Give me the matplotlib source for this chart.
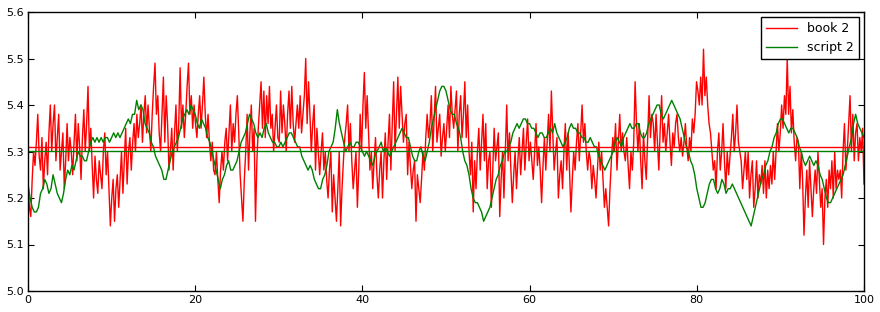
import numpy as np
import matplotlib
matplotlib.use("Agg")
import matplotlib.pyplot as plt

# valores, 6 por unidad de x (book 2 = rojo)
book2 = [
    5.23, 5.18, 5.16, 5.24, 5.30, 5.27,  # 0
    5.32, 5.38, 5.29, 5.26, 5.33, 5.22,
    5.28, 5.32, 5.25, 5.34, 5.40, 5.30,
    5.36, 5.40, 5.28, 5.33, 5.38, 5.26,
    5.30, 5.34, 5.22, 5.28, 5.36, 5.28,
    5.33, 5.30, 5.25, 5.32, 5.38, 5.28,  # 5
    5.36, 5.31, 5.24, 5.33, 5.39, 5.30,
    5.36, 5.44, 5.30, 5.35, 5.27, 5.20,
    5.29, 5.24, 5.21, 5.28, 5.25, 5.22,
    5.30, 5.34, 5.25, 5.30, 5.22, 5.14,
    5.20, 5.24, 5.15, 5.22, 5.25, 5.18,  # 10
    5.24, 5.30, 5.21, 5.28, 5.35, 5.23,
    5.30, 5.33, 5.26, 5.32, 5.36, 5.30,
    5.38, 5.33, 5.36, 5.40, 5.32, 5.38,
    5.42, 5.34, 5.40, 5.35, 5.30, 5.38,
    5.44, 5.49, 5.38, 5.42, 5.34, 5.30,  # 15
    5.38, 5.46, 5.32, 5.42, 5.36, 5.26,
    5.30, 5.35, 5.26, 5.34, 5.40, 5.30,
    5.36, 5.48, 5.35, 5.40, 5.33, 5.38,
    5.44, 5.49, 5.38, 5.42, 5.35, 5.40,
    5.36, 5.33, 5.38, 5.42, 5.35, 5.40,  # 20
    5.46, 5.38, 5.33, 5.38, 5.32, 5.28,
    5.32, 5.26, 5.25, 5.30, 5.24, 5.19,
    5.26, 5.30, 5.26, 5.32, 5.35, 5.28,
    5.34, 5.40, 5.30, 5.36, 5.32, 5.38,
    5.42, 5.34, 5.25, 5.20, 5.15, 5.24,  # 25
    5.30, 5.38, 5.26, 5.34, 5.40, 5.30,
    5.35, 5.15, 5.28, 5.35, 5.40, 5.45,
    5.35, 5.43, 5.33, 5.42, 5.36, 5.44,
    5.35, 5.38, 5.30, 5.35, 5.40, 5.33,
    5.32, 5.43, 5.34, 5.40, 5.36, 5.30,  # 30
    5.38, 5.43, 5.35, 5.44, 5.36, 5.32,
    5.36, 5.40, 5.35, 5.42, 5.34, 5.38,
    5.42, 5.50, 5.36, 5.45, 5.38, 5.30,
    5.36, 5.40, 5.26, 5.35, 5.30, 5.25,
    5.30, 5.34, 5.26, 5.30, 5.24, 5.20,  # 35
    5.26, 5.30, 5.17, 5.25, 5.20, 5.15,
    5.22, 5.30, 5.14, 5.22, 5.28, 5.33,
    5.36, 5.40, 5.30, 5.36, 5.28, 5.22,
    5.26, 5.30, 5.18, 5.26, 5.38, 5.30,
    5.40, 5.47, 5.35, 5.42, 5.34, 5.26,  # 40
    5.30, 5.22, 5.28, 5.33, 5.25, 5.20,
    5.26, 5.30, 5.20, 5.28, 5.34, 5.24,
    5.32, 5.38, 5.26, 5.36, 5.45, 5.30,
    5.38, 5.46, 5.35, 5.44, 5.38, 5.32,
    5.36, 5.38, 5.25, 5.32, 5.27, 5.22,  # 45
    5.26, 5.28, 5.15, 5.25, 5.22, 5.19,
    5.24, 5.30, 5.26, 5.33, 5.38, 5.33,
    5.36, 5.42, 5.30, 5.37, 5.44, 5.32,
    5.35, 5.38, 5.29, 5.33, 5.36, 5.30,
    5.35, 5.40, 5.33, 5.44, 5.38, 5.35,  # 50
    5.39, 5.43, 5.30, 5.38, 5.42, 5.33,
    5.38, 5.45, 5.33, 5.40, 5.30, 5.25,
    5.32, 5.17, 5.28, 5.22, 5.30, 5.35,
    5.26, 5.32, 5.38, 5.28, 5.36, 5.22,
    5.28, 5.30, 5.18, 5.26, 5.35, 5.28,  # 55
    5.31, 5.34, 5.16, 5.24, 5.30, 5.20,
    5.30, 5.40, 5.28, 5.34, 5.26, 5.19,
    5.25, 5.30, 5.22, 5.28, 5.33, 5.25,
    5.30, 5.35, 5.26, 5.32, 5.37, 5.28,
    5.32, 5.28, 5.24, 5.30, 5.36, 5.27,  # 60
    5.31, 5.26, 5.19, 5.27, 5.33, 5.26,
    5.32, 5.38, 5.30, 5.43, 5.34, 5.26,
    5.30, 5.33, 5.20, 5.25, 5.28, 5.22,
    5.30, 5.36, 5.26, 5.34, 5.26, 5.17,
    5.24, 5.30, 5.26, 5.32, 5.36, 5.28,  # 65
    5.34, 5.40, 5.32, 5.36, 5.30, 5.26,
    5.30, 5.28, 5.22, 5.27, 5.24, 5.20,
    5.26, 5.32, 5.26, 5.30, 5.24, 5.18,
    5.22, 5.18, 5.14, 5.22, 5.28, 5.33,
    5.30, 5.36, 5.26, 5.32, 5.38, 5.30,  # 70
    5.34, 5.30, 5.28, 5.33, 5.27, 5.22,
    5.30, 5.26, 5.32, 5.45, 5.36, 5.30,
    5.36, 5.28, 5.22, 5.34, 5.28, 5.24,
    5.33, 5.42, 5.33, 5.38, 5.36, 5.30,
    5.38, 5.32, 5.26, 5.35, 5.42, 5.32,  # 75
    5.36, 5.30, 5.34, 5.38, 5.32, 5.27,
    5.34, 5.31, 5.36, 5.38, 5.33, 5.30,
    5.33, 5.29, 5.32, 5.36, 5.31, 5.28,
    5.33, 5.30, 5.37, 5.34, 5.38, 5.45,
    5.43, 5.40, 5.46, 5.40, 5.52, 5.42,  # 80
    5.46, 5.40, 5.36, 5.34, 5.30, 5.26,
    5.28, 5.22, 5.30, 5.34, 5.26, 5.30,
    5.36, 5.28, 5.22, 5.30, 5.25, 5.29,
    5.33, 5.38, 5.30, 5.34, 5.40, 5.32,
    5.30, 5.28, 5.22, 5.26, 5.30, 5.24,  # 85
    5.30, 5.20, 5.25, 5.28, 5.18, 5.22,
    5.28, 5.20, 5.25, 5.23, 5.27, 5.21,
    5.28, 5.20, 5.26, 5.22, 5.27, 5.23,
    5.30, 5.24, 5.30, 5.36, 5.30, 5.34,
    5.40, 5.35, 5.42, 5.38, 5.50, 5.38,  # 90
    5.44, 5.34, 5.39, 5.32, 5.28, 5.33,
    5.32, 5.22, 5.30, 5.24, 5.12, 5.20,
    5.26, 5.18, 5.28, 5.22, 5.16, 5.22,
    5.26, 5.21, 5.30, 5.24, 5.18, 5.22,
    5.10, 5.20, 5.24, 5.18, 5.26, 5.22,  # 95
    5.28, 5.20, 5.30, 5.22, 5.26, 5.24,
    5.26, 5.20, 5.30, 5.36, 5.26, 5.30,
    5.36, 5.42, 5.30, 5.38, 5.28, 5.34,
    5.36, 5.28, 5.33, 5.30, 5.35, 5.23,
]

# script 2 (verde), 4 por unidad de x
script2 = [
    5.23, 5.20, 5.18, 5.17,  5.17, 5.18, 5.21, 5.22,  5.24, 5.23, 5.21, 5.22,  # 0-2
    5.25, 5.23, 5.21, 5.20,  5.19, 5.21, 5.24, 5.26,  5.25, 5.27, 5.26, 5.28,  # 3-5
    5.30, 5.29, 5.29, 5.28,  5.28, 5.30, 5.32, 5.33,  5.32, 5.33, 5.32, 5.33,  # 6-8
    5.32, 5.33, 5.33, 5.32,  5.33, 5.34, 5.33, 5.34,  5.33, 5.34, 5.35, 5.36,  # 9-11
    5.37, 5.36, 5.38, 5.38,  5.41, 5.39, 5.40, 5.39,  5.36, 5.35, 5.34, 5.32,  # 12-14
    5.31, 5.29, 5.28, 5.27,  5.26, 5.24, 5.24, 5.26,  5.28, 5.30, 5.31, 5.32,  # 15-17
    5.33, 5.35, 5.37, 5.38,  5.39, 5.38, 5.40, 5.39,  5.38, 5.36, 5.35, 5.37,  # 18-20
    5.36, 5.35, 5.33, 5.32,  5.30, 5.28, 5.26, 5.24,  5.22, 5.24, 5.25, 5.27,  # 21-23
    5.28, 5.26, 5.26, 5.27,  5.28, 5.30, 5.32, 5.33,  5.34, 5.36, 5.38, 5.37,  # 24-26
    5.36, 5.34, 5.33, 5.34,  5.33, 5.35, 5.36, 5.34,  5.33, 5.32, 5.32, 5.31,  # 27-29
    5.31, 5.32, 5.31, 5.32,  5.33, 5.34, 5.34, 5.33,  5.32, 5.31, 5.31, 5.29,  # 30-32
    5.28, 5.27, 5.26, 5.27,  5.26, 5.24, 5.23, 5.22,  5.22, 5.24, 5.25, 5.27,  # 33-35
    5.30, 5.31, 5.32, 5.35,  5.39, 5.36, 5.34, 5.32,  5.30, 5.31, 5.32, 5.31,  # 36-38
    5.31, 5.32, 5.32, 5.31,  5.30, 5.29, 5.30, 5.29,  5.28, 5.27, 5.29, 5.30,  # 39-41
    5.31, 5.32, 5.30, 5.31,  5.30, 5.29, 5.30, 5.31,  5.32, 5.33, 5.34, 5.35,  # 42-44
    5.34, 5.33, 5.33, 5.31,  5.29, 5.28, 5.28, 5.30,  5.31, 5.29, 5.28, 5.30,  # 45-47
    5.32, 5.35, 5.37, 5.39,  5.41, 5.43, 5.44, 5.44,  5.43, 5.41, 5.39, 5.38,  # 48-50
    5.38, 5.36, 5.35, 5.33,  5.30, 5.28, 5.27, 5.25,  5.22, 5.20, 5.19, 5.19,  # 51-53
    5.18, 5.17, 5.15, 5.16,  5.17, 5.18, 5.20, 5.22,  5.24, 5.25, 5.27, 5.28,  # 54-56
    5.30, 5.30, 5.31, 5.32,  5.34, 5.35, 5.36, 5.35,  5.36, 5.37, 5.37, 5.36,  # 57-59
    5.36, 5.35, 5.35, 5.34,  5.33, 5.34, 5.34, 5.33,  5.33, 5.34, 5.35, 5.34,  # 60-62
    5.36, 5.34, 5.33, 5.32,  5.31, 5.32, 5.33, 5.35,  5.36, 5.35, 5.35, 5.34,  # 63-65
    5.34, 5.33, 5.33, 5.32,  5.32, 5.33, 5.32, 5.31,  5.31, 5.29, 5.28, 5.27,  # 66-68
    5.26, 5.27, 5.28, 5.29,  5.30, 5.32, 5.33, 5.32,  5.31, 5.33, 5.34, 5.35,  # 69-71
    5.36, 5.35, 5.35, 5.36,  5.36, 5.34, 5.33, 5.33,  5.34, 5.36, 5.37, 5.38,  # 72-74
    5.39, 5.40, 5.40, 5.38,  5.37, 5.38, 5.39, 5.40,  5.41, 5.40, 5.39, 5.38,  # 75-77
    5.37, 5.35, 5.33, 5.31,  5.30, 5.28, 5.27, 5.25,  5.22, 5.20, 5.18, 5.18,  # 78-80
    5.19, 5.21, 5.23, 5.24,  5.24, 5.22, 5.21, 5.22,  5.24, 5.23, 5.21, 5.22,  # 81-83
    5.22, 5.23, 5.22, 5.21,  5.20, 5.19, 5.18, 5.17,  5.16, 5.15, 5.14, 5.16,  # 84-86
    5.18, 5.20, 5.22, 5.24,  5.25, 5.27, 5.28, 5.30,  5.31, 5.33, 5.34, 5.36,  # 87-89
    5.37, 5.37, 5.36, 5.35,  5.34, 5.35, 5.35, 5.34,  5.33, 5.31, 5.30, 5.28,  # 90-92
    5.27, 5.28, 5.29, 5.28,  5.27, 5.28, 5.27, 5.25,  5.24, 5.22, 5.20, 5.19,  # 93-95
    5.19, 5.20, 5.21, 5.22,  5.23, 5.24, 5.25, 5.27,  5.29, 5.31, 5.33, 5.36,  # 96-98
    5.38, 5.36, 5.35, 5.34,  5.33,  # 99-100
]
book2_level = 5.31    # lineas horizontales (media de cada serie)
script2_level = 5.302

x_book = np.linspace(0, 100, len(book2))
x_script = np.linspace(0, 100, len(script2))

fig = plt.figure(figsize=(8.8, 3.12), dpi=100)
ax = fig.add_axes([28 / 880, 21 / 312, 836 / 880, 279 / 312])

ax.plot(x_book, book2, color="red", lw=1, label="book 2")
ax.plot(x_script, script2, color="green", lw=1, label="script 2")
ax.axhline(book2_level, color="red", lw=1)
ax.axhline(script2_level, color="green", lw=1)

ax.set_xlim(0, 100)
ax.set_ylim(5.0, 5.6)
ax.set_xticks(np.arange(0, 101, 20))
ax.set_yticks(np.arange(5.0, 5.61, 0.1))
ax.tick_params(direction="in", top=True, right=True, labelsize=8, length=4, pad=3)
for s in ax.spines.values():
    s.set_linewidth(1)

leg = ax.legend(loc="upper right", fontsize=9, fancybox=False, framealpha=1,
                edgecolor="black", handlelength=2.5, borderaxespad=0.4)
leg.get_frame().set_linewidth(1)

fig.savefig("out.png", dpi=100)
